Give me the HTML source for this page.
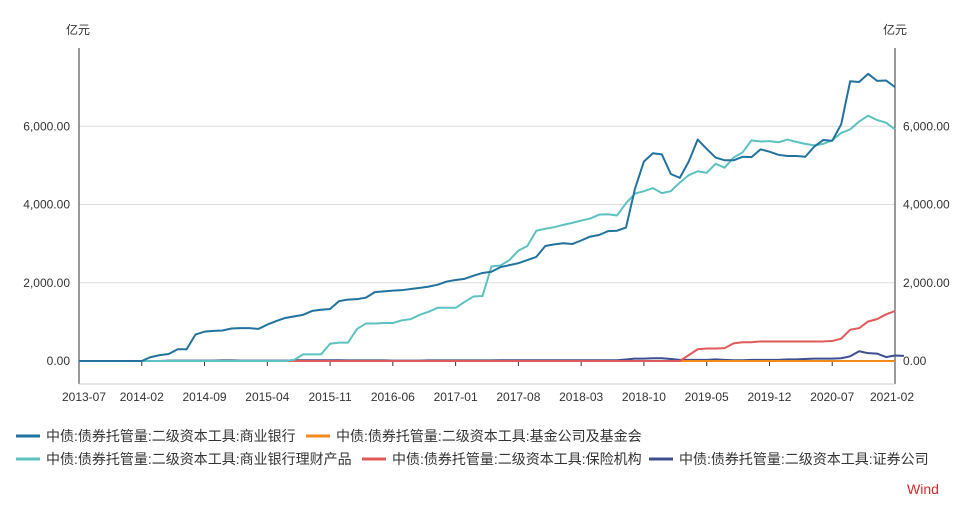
<!DOCTYPE html>
<html><head><meta charset="utf-8"><style>
body{margin:0;background:#fff;font-family:"Liberation Sans","Noto Sans CJK SC",sans-serif;}
svg text{font-family:"Liberation Sans","Noto Sans CJK SC",sans-serif;font-size:12px;fill:#333;}
</style></head><body>
<svg id="c" width="972" height="508"></svg>
<script>
const months=[];for(let y=2013,m=7;!(y===2021&&m===3);){months.push(y+'-'+String(m).padStart(2,'0'));m++;if(m>12){m=1;y++;}}
const xTickLabels=['2013-07','2014-02','2014-09','2015-04','2015-11','2016-06','2017-01','2017-08','2018-03','2018-10','2019-05','2019-12','2020-07','2021-02'];
const yTicks=[0,2000,4000,6000];
const yTickLabels=['0.00','2,000.00','4,000.00','6,000.00'];
const bankVals=[0,0,0,0,0,0,0,0,100,150,180,300,300,680,750,770,780,830,840,840,820,930,1020,1100,1140,1180,1280,1310,1330,1530,1570,1580,1620,1760,1780,1800,1810,1840,1870,1900,1950,2030,2070,2100,2180,2250,2280,2400,2450,2500,2580,2660,2940,2980,3010,2990,3080,3180,3220,3320,3330,3410,4400,5100,5310,5280,4780,4680,5100,5660,5420,5200,5130,5130,5220,5210,5410,5350,5270,5240,5240,5220,5480,5650,5630,6050,7150,7130,7340,7160,7170,7000];
const wealthVals=[0,0,0,0,0,0,0,0,0,0,0,0,0,0,0,0,0,0,0,0,0,0,0,0,30,170,170,170,440,470,470,820,960,960,970,970,1040,1070,1180,1260,1360,1360,1360,1510,1650,1660,2420,2440,2580,2820,2940,3330,3380,3420,3480,3530,3590,3640,3740,3750,3720,4030,4280,4340,4420,4290,4340,4560,4750,4850,4810,5040,4940,5200,5330,5640,5610,5620,5590,5660,5600,5550,5510,5550,5640,5830,5920,6120,6270,6160,6090,5920];
const fundVals=months.map(()=>0);
const insVals=[].concat(Array(67).fill(0),[0,150,300,320,320,330,450,480,480,500,500,500,500,500,500,500,500,510,570,800,840,1010,1070,1190,1280]);
const secVals=[0,0,0,0,0,0,0,0,0,0,10,10,10,10,10,10,15,15,10,10,10,10,10,10,20,20,20,20,20,20,15,15,15,15,15,10,10,10,10,15,15,15,15,15,15,15,15,20,20,20,20,20,20,20,20,20,20,20,20,20,20,40,60,60,70,70,50,30,30,30,30,40,30,20,20,30,30,30,30,40,40,50,60,60,60,70,120,250,200,190,100,140,130];
const series=[
 {name:'中债:债券托管量:二级资本工具:证券公司',vals:secVals,color:'#3d4f8f',key:'securities'},
 {name:'中债:债券托管量:二级资本工具:基金公司及基金会',vals:fundVals,color:'#f28a1a',key:'fund'},
 {name:'中债:债券托管量:二级资本工具:保险机构',vals:insVals,color:'#e05a5a',key:'insurance'},
 {name:'中债:债券托管量:二级资本工具:商业银行理财产品',vals:wealthVals,color:'#5bc2c0',key:'wealth'},
 {name:'中债:债券托管量:二级资本工具:商业银行',vals:bankVals,color:'#22729f',key:'bank'}];
const NS='http://www.w3.org/2000/svg',svg=document.getElementById('c');
const X0=79,X1=895,Y0=361,YMAX=48;
const x=i=>X0+i*(X1-X0)/(months.length-1);
const y=v=>Y0-(v/8000)*(Y0-YMAX);
function el(t,a,p){const e=document.createElementNS(NS,t);for(const k in a)e.setAttribute(k,a[k]);(p||svg).appendChild(e);return e;}
yTicks.forEach((v,k)=>{
 const g=el('line',{x1:X0,x2:X1,y1:y(v),y2:y(v),stroke:'#ddd'});
 
 
 const t1=el('text',{x:70,y:y(v)+4,'text-anchor':'end'});t1.textContent=yTickLabels[k];
 
 
 const t2=el('text',{x:903,y:y(v)+4});t2.textContent=yTickLabels[k];
 
 
});
el('line',{x1:X0,x2:X0,y1:YMAX,y2:384,stroke:'#333'});
el('line',{x1:X1,x2:X1,y1:YMAX,y2:384,stroke:'#333'});
el('line',{x1:X0,x2:X1,y1:384,y2:384,stroke:'#ccc'});
xTickLabels.forEach(l=>{
 const i=months.indexOf(l);
 const tk=el('line',{x1:x(i),x2:x(i),y1:Y0,y2:Y0+5,stroke:'#333'});
 
 
 const t=el('text',{x:Math.min(Math.max(x(i),84),892),y:401,'text-anchor':'middle'});t.textContent=l;
 
 
});
[[66,'亿元'],[883,'亿元']].forEach(([px,s])=>{const t=el('text',{x:px,y:34});t.textContent=s;});
series.forEach(s=>{
 const p=el('polyline',{points:s.vals.map((v,i)=>x(i)+','+y(v)).join(' '),fill:'none',stroke:s.color,'stroke-width':2,'stroke-linejoin':'round'});
 
 
});
const legendOrder=[series[4],series[1],series[3],series[2],series[0]];
[[16,436],[306,436],[16,459],[362,459],[649,459]].forEach(([lx,ly],k)=>{
 const s=legendOrder[k];
 const g=el('g',{});
 
 
 el('line',{x1:lx,x2:lx+24,y1:ly,y2:ly,stroke:s.color,'stroke-width':3},g);
 const t=el('text',{x:lx+30,y:ly+5},g);t.textContent=s.name;t.style.fontSize='14px';
});
const w=el('text',{x:907,y:494});w.textContent='Wind';w.style.fill='#d42a2a';w.style.fontSize='14px';


</script>
</body></html>
